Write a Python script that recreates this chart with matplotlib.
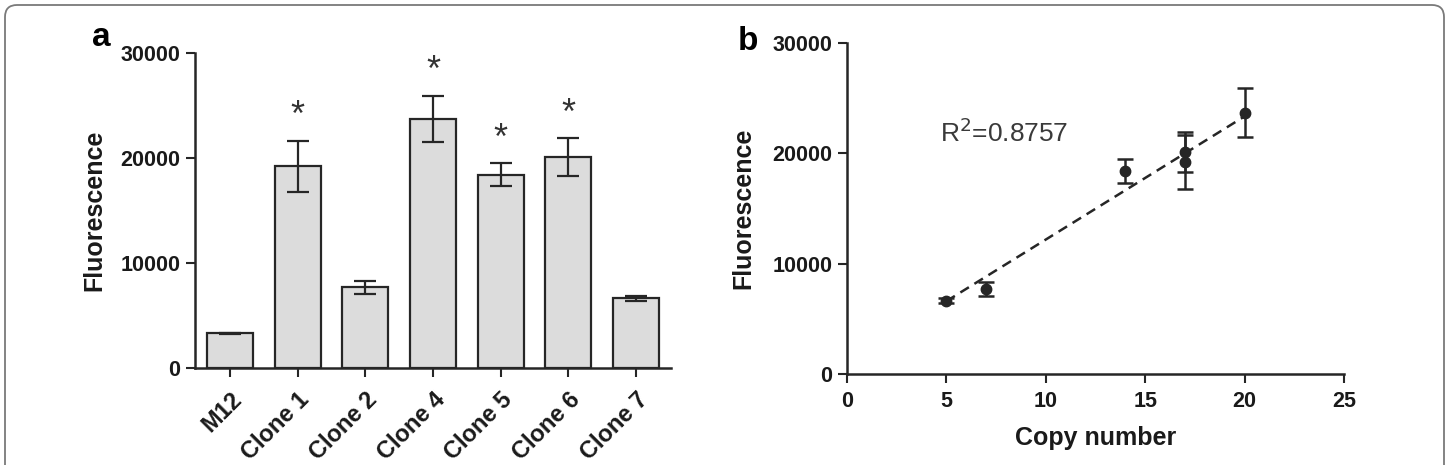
import numpy as np
import matplotlib
matplotlib.use("Agg")
import matplotlib.pyplot as plt
from matplotlib.patches import FancyBboxPatch

plt.rcParams['font.family'] = ['Liberation Sans', 'DejaVu Sans']

# panel a data
groups = ["M12", "Clone 1", "Clone 2", "Clone 4", "Clone 5", "Clone 6", "Clone 7"]
fluor = [3300, 19200, 7700, 23700, 18400, 20100, 6650]
fluor_err = [40, 2440, 620, 2220, 1090, 1790, 250]
signif = [False, True, False, True, True, True, False]

# panel b data (clones 7, 2, 5, 6, 1, 4)
copy_number = [5, 7, 14, 17, 17, 20]
copy_fluor = [6650, 7700, 18400, 20100, 19200, 23700]
copy_err = [250, 620, 1090, 1790, 2440, 2220]
fit_x = [5, 20]
fit_y = [6600, 23350]
r2_text = "R$^2$=0.8757"

ink = "#262626"
lw_axis = 1.8

fig = plt.figure(figsize=(14.49, 4.65), dpi=100)

# rounded frame around the whole figure
frame = FancyBboxPatch((0.05, -0.3), 14.39, 4.9,
                       boxstyle="round,pad=0,rounding_size=0.12",
                       transform=fig.dpi_scale_trans, fc="none",
                       ec="#7a7a7a", lw=1.3)
fig.patches.append(frame)


def style_axes(ax):
    for side in ["top", "right"]:
        ax.spines[side].set_visible(False)
    for side in ["left", "bottom"]:
        ax.spines[side].set_linewidth(lw_axis)
        ax.spines[side].set_color(ink)
    ax.tick_params(direction="out", length=6.5, width=1.5, color=ink,
                   labelsize=15.5, labelcolor="#1a1a1a")
    for lab in ax.get_xticklabels() + ax.get_yticklabels():
        lab.set_fontweight("bold")


# ---- panel a ----
ax1 = fig.add_axes([0.1346, 0.2086, 0.3285, 0.6774])
xpos = np.arange(len(groups))
ax1.bar(xpos, fluor, width=0.68, color="#dcdcdc", edgecolor=ink,
        linewidth=1.6, zorder=2)
ax1.errorbar(xpos, fluor, yerr=fluor_err, fmt="none", ecolor=ink,
             elinewidth=1.6, capsize=8, capthick=1.6, zorder=3)
for i in range(len(groups)):
    if signif[i]:
        ax1.text(xpos[i], fluor[i] + fluor_err[i] + 2300, "*",
                 ha="center", va="center", fontsize=26, color="#333333")
ax1.set_xlim(-0.517, 6.517)
ax1.set_ylim(0, 30000)
ax1.set_yticks([0, 10000, 20000, 30000])
ax1.set_xticks(xpos)
ax1.set_xticklabels(groups, rotation=45, ha="right",
                    rotation_mode="anchor")
ax1.set_ylabel("Fluorescence", fontsize=18, fontweight="bold",
               labelpad=10, color="#1a1a1a")
style_axes(ax1)
ax1.tick_params(axis="x", pad=8, labelsize=17)
ax1.tick_params(axis="y", pad=4)
fig.text(92 / 1449, 1 - 46 / 465, "a", fontsize=24, fontweight="bold",
         ha="left", va="baseline")

# ---- panel b ----
ax2 = fig.add_axes([0.5845, 0.1957, 0.3430, 0.7118])
ax2.plot(fit_x, fit_y, color=ink, lw=1.8, linestyle=(0, (4, 2.6)),
         zorder=2)
ax2.errorbar(copy_number, copy_fluor, yerr=copy_err, fmt="o",
             color=ink, markersize=7.5, elinewidth=1.8, capsize=6,
             capthick=1.8, zorder=3)
ax2.text(4.68, 21000, r2_text, fontsize=19, color="#3a3a3a",
         ha="left", va="baseline")
ax2.set_xlim(0, 25)
ax2.set_ylim(0, 30000)
ax2.set_xticks([0, 5, 10, 15, 20, 25])
ax2.set_yticks([0, 10000, 20000, 30000])
ax2.set_xlabel("Copy number", fontsize=18, fontweight="bold",
               labelpad=10, color="#1a1a1a")
ax2.set_ylabel("Fluorescence", fontsize=18, fontweight="bold",
               labelpad=12, color="#1a1a1a")
style_axes(ax2)
ax2.tick_params(axis="x", pad=6)
ax2.tick_params(axis="y", pad=4)
fig.text(738 / 1449, 1 - 50 / 465, "b", fontsize=24, fontweight="bold",
         ha="left", va="baseline")

fig.savefig("out.png", dpi=100)
